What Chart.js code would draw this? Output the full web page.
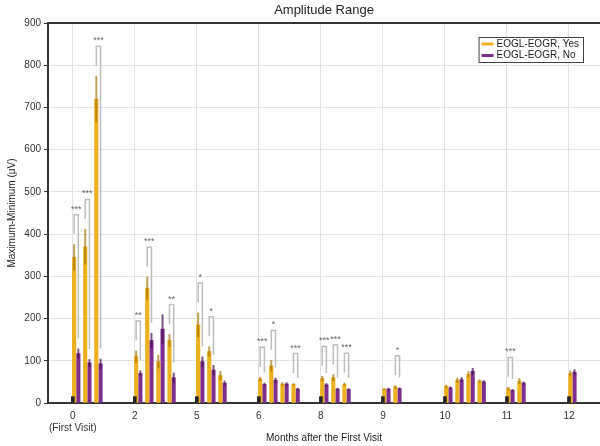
<!DOCTYPE html>
<html>
<head>
<meta charset="utf-8">
<script src="https://cdn.jsdelivr.net/npm/chart.js@4.4.1/dist/chart.umd.min.js"></script>
<style>
  html, body { margin: 0; padding: 0; background: #fff; }
  #wrap { width: 600px; height: 446px; }
</style>
</head>
<body>
<div id="wrap"><canvas id="c"></canvas></div>
<script>
var titleText = 'Amplitude Range';
var xTitle = 'Months after the First Visit';
var yTitle = 'Maximum-Minimum (\u03bcV)';
var months = ['0', '2', '5', '6', '8', '9', '10', '11', '12'];
var firstVisitNote = '(First Visit)';
var yTicks = [0, 900, 100];

// small black reference bar at each month
var baseline = [15, 15, 15, 15, 15, 15, 15, 15, 15];

// per month, one value per sub-group
var yesMean = [[345, 370, 720], [110, 272, 98, 148], [185, 122, 65], [57, 88, 45, 44], [58, 60, 44], [33, 38], [39, 54, 68, 52], [34, 52], [70]];
var yesErr  = [[31, 42, 55], [14, 27, 16, 15], [29, 12, 11], [5, 14, 4, 3], [6, 8, 4], [2, 4], [4, 6, 7, 4], [4, 7], [7]];
var noMean  = [[117, 95, 93], [70, 148, 175, 60], [98, 78, 47], [44, 54, 45, 33], [43, 33, 32], [33, 34], [36, 55, 75, 50], [30, 47], [73]];
var noErr   = [[12, 9, 12], [7, 18, 35, 12], [12, 12, 6], [4, 6, 4, 3], [4, 3, 3], [3, 3], [3, 6, 8, 4], [3, 4], [7]];

// [month index, sub-group index, stars]
var sigPairs = [
  [0, 0, '***'], [0, 1, '***'], [0, 2, '***'],
  [1, 0, '**'], [1, 1, '***'], [1, 3, '**'],
  [2, 0, '*'], [2, 1, '*'],
  [3, 0, '***'], [3, 1, '*'], [3, 3, '***'],
  [4, 0, '***'], [4, 1, '***'], [4, 2, '***'],
  [5, 1, '*'],
  [7, 0, '***']
];

var YES_COLOR = '#EDB120', NO_COLOR = '#7E2F8E', BASE_COLOR = '#222222';
var YES_ERR = 'rgba(160,110,0,0.65)', NO_ERR = 'rgba(70,15,80,0.7)';
var PAIR_START = 0.021, PAIR_PITCH = 0.179, NO_SHIFT = 0.068;
var FONT = '"Liberation Sans", Arial, sans-serif';

var baseData = baseline.map(function(v, g) { return { x: g, y: v }; });
var yesData = [], noData = [], pairIndex = [];
yesMean.forEach(function(arr, g) {
  pairIndex.push([]);
  arr.forEach(function(v, k) {
    var x = g + PAIR_START + k * PAIR_PITCH;
    pairIndex[g].push(yesData.length);
    yesData.push({ x: x, y: v, e: yesErr[g][k] });
    noData.push({ x: x + NO_SHIFT, y: noMean[g][k], e: noErr[g][k] });
  });
});

var decor = {
  id: 'decor',
  afterDatasetsDraw: function(chart) {
    var ctx = chart.ctx, ys = chart.scales.y;
    var yesMeta = chart.getDatasetMeta(1), noMeta = chart.getDatasetMeta(2);
    ctx.save();
    // error bars
    [[yesMeta, yesData, YES_ERR], [noMeta, noData, NO_ERR]].forEach(function(s) {
      ctx.strokeStyle = s[2];
      ctx.lineWidth = 2;
      s[0].data.forEach(function(bar, i) {
        var p = s[1][i];
        ctx.beginPath();
        ctx.moveTo(bar.x, ys.getPixelForValue(p.y - p.e));
        ctx.lineTo(bar.x, ys.getPixelForValue(p.y + p.e));
        ctx.stroke();
      });
    });
    // significance brackets
    ctx.strokeStyle = '#bdbdbd';
    ctx.lineWidth = 1.5;
    ctx.fillStyle = '#666';
    ctx.font = '9px ' + FONT;
    ctx.textAlign = 'center';
    ctx.textBaseline = 'alphabetic';
    sigPairs.forEach(function(s) {
      var i = pairIndex[s[0]][s[1]];
      var yt = yesData[i].y + yesData[i].e, nt = noData[i].y + noData[i].e;
      var xl = yesMeta.data[i].x, xr = noMeta.data[i].x;
      var top = ys.getPixelForValue(Math.max(yt, nt) + 70);
      ctx.beginPath();
      ctx.moveTo(xl, ys.getPixelForValue(yt + 24));
      ctx.lineTo(xl, top);
      ctx.lineTo(xr, top);
      ctx.lineTo(xr, ys.getPixelForValue(nt + 24));
      ctx.stroke();
      ctx.fillText(s[2], (xl + xr) / 2, top - 3);
    });
    ctx.restore();
  },
  afterDraw: function(chart) {
    var ctx = chart.ctx, a = chart.chartArea;
    ctx.save();
    // top frame line
    ctx.strokeStyle = '#333';
    ctx.lineWidth = 2;
    ctx.beginPath();
    ctx.moveTo(a.left, a.top);
    ctx.lineTo(a.right, a.top);
    ctx.stroke();
    // title centred on the plot area
    ctx.fillStyle = '#222';
    ctx.font = '13px ' + FONT;
    ctx.textAlign = 'center';
    ctx.textBaseline = 'middle';
    ctx.fillText(titleText, (a.left + a.right) / 2, 10);
    // legend box
    var items = [chart.data.datasets[1], chart.data.datasets[2]];
    ctx.font = '10px ' + FONT;
    var tw = Math.max.apply(null, items.map(function(d) { return ctx.measureText(d.label).width; }));
    var w = tw + 22, h = 25;
    var x0 = a.right - 17 - w, y0 = a.top + 14;
    ctx.fillStyle = '#fff';
    ctx.fillRect(x0, y0, w, h);
    ctx.strokeStyle = '#444';
    ctx.lineWidth = 1;
    ctx.strokeRect(x0 + 0.5, y0 + 0.5, w, h);
    ctx.textAlign = 'left';
    items.forEach(function(d, j) {
      var cy = y0 + 7 + j * 11.5;
      ctx.strokeStyle = d.backgroundColor;
      ctx.lineWidth = 3;
      ctx.beginPath();
      ctx.moveTo(x0 + 3, cy);
      ctx.lineTo(x0 + 15, cy);
      ctx.stroke();
      ctx.fillStyle = '#222';
      ctx.fillText(d.label, x0 + 18, cy);
    });
    ctx.restore();
  }
};

new Chart(document.getElementById('c'), {
  type: 'bar',
  data: {
    datasets: [
      { label: 'base', data: baseData, backgroundColor: BASE_COLOR, barThickness: 3, grouped: false },
      { label: 'EOGL-EOGR, Yes', data: yesData, backgroundColor: YES_COLOR, barThickness: 3.5, grouped: false },
      { label: 'EOGL-EOGR, No', data: noData, backgroundColor: NO_COLOR, barThickness: 3.5, grouped: false }
    ]
  },
  options: {
    responsive: true,
    maintainAspectRatio: false,
    animation: false,
    layout: { padding: { top: 23, left: 0, right: 0, bottom: 0 } },
    plugins: { legend: { display: false }, tooltip: { enabled: false }, title: { display: false } },
    scales: {
      x: {
        type: 'linear',
        min: -0.4,
        max: 8.5,
        offset: false,
        afterBuildTicks: function(scale) {
          scale.ticks = months.map(function(m, i) { return { value: i }; });
        },
        afterFit: function(scale) { scale.height = 43; },
        grid: { color: '#e3e3e3', offset: false, drawTicks: false },
        border: { color: '#333', width: 2 },
        ticks: {
          color: '#333',
          font: { family: FONT, size: 10 },
          padding: 7,
          maxRotation: 0,
          autoSkip: false,
          callback: function(v) {
            var i = Math.round(v);
            return i === 0 ? [months[0], firstVisitNote] : months[i];
          }
        },
        title: { display: true, text: xTitle, color: '#222', font: { family: FONT, size: 10 }, padding: { top: 0, bottom: 2 } }
      },
      y: {
        min: yTicks[0],
        max: yTicks[1],
        afterFit: function(scale) { scale.width = 48; },
        grid: { color: '#e3e3e3', tickColor: '#333', tickLength: 4 },
        border: { color: '#333', width: 2 },
        ticks: { stepSize: yTicks[2], color: '#333', font: { family: FONT, size: 10 }, padding: 3 },
        title: { display: true, text: yTitle, color: '#222', font: { family: FONT, size: 10 }, padding: { top: 6, bottom: 0 } }
      }
    }
  },
  plugins: [decor]
});
</script>
</body>
</html>
